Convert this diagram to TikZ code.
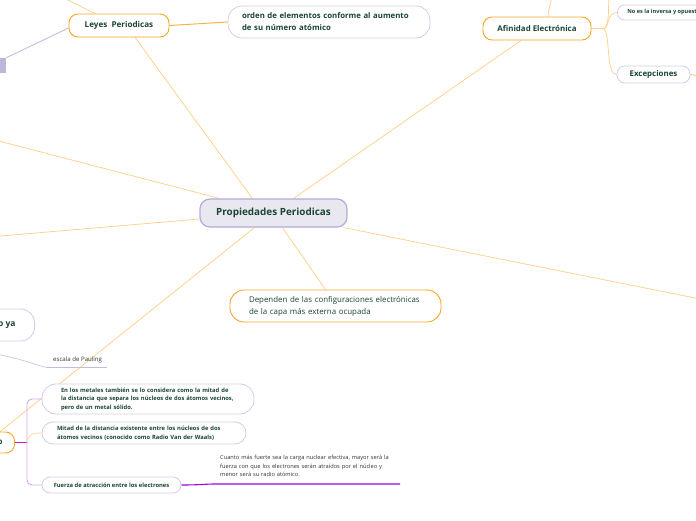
\documentclass[tikz,border=0pt]{standalone}
\usepackage{fontspec}
\setmainfont{Open Sans}
\usetikzlibrary{backgrounds,calc}
\definecolor{tg}{HTML}{1A4535}
\definecolor{oB}{HTML}{F6A623}
\definecolor{lB}{HTML}{D2CDEA}
\definecolor{cB}{HTML}{B3ABD8}
\definecolor{cF}{HTML}{E9E8F0}
\definecolor{oL}{HTML}{FFCD85}
\definecolor{oM}{HTML}{F9B04C}
\definecolor{pL}{HTML}{C3BCE2}
\definecolor{pbF}{HTML}{BDB6DC}
\definecolor{vio}{HTML}{D7A6F0}
\definecolor{mag}{HTML}{C21BC7}
\definecolor{pur}{HTML}{A000E6}
\definecolor{peach}{HTML}{FFD9AE}
\definecolor{gtx}{HTML}{333333}
\begin{document}
\begin{tikzpicture}[x=1pt,y=-1pt,
  ctr/.style={draw=cB, fill=cF, line width=1.2pt, rounded corners=10pt, inner sep=0pt,
    minimum width=147pt, minimum height=28pt, text=tg, font=\bfseries\fontsize{9.9}{11}\selectfont},
  obox/.style={draw=oB, fill=white, line width=0.9pt, rounded corners=9pt, inner sep=0pt, text=tg},
  lbox/.style={draw=lB, fill=white, line width=0.8pt, rounded corners=9pt, inner sep=0pt, text=tg},
  ol/.style={draw=oL, line width=0.7pt},
  small/.style={font=\bfseries\fontsize{5.8}{8.5}\selectfont},
]
\useasboundingbox (0,0) rectangle (696,520);

% nodes
\node[ctr] (pp) at (273.5,213) {Propiedades Periodicas};
\node[obox, minimum width=100pt, minimum height=23pt, font=\bfseries\fontsize{8.1}{10}\selectfont] (ley) at (119,25.5) {Leyes\ \ Periodicas};
\node[lbox, rounded corners=14pt, minimum width=202pt, minimum height=32pt, text width=174pt, align=left,
  font=\bfseries\fontsize{7.8}{12}\selectfont] (ord) at (329,22) {\mbox{orden de elementos conforme al aumento}\\\mbox{de su número atómico}};
\node[obox, minimum width=108pt, minimum height=23pt, font=\bfseries\fontsize{7.9}{10}\selectfont] (af) at (537,28.5) {Afinidad Electrónica};
\node[lbox, rounded corners=7pt, anchor=west, minimum height=15pt, inner xsep=10pt,
  font=\bfseries\fontsize{5.6}{7}\selectfont] (noes) at (617,12.5) {No es la inversa y opuesta};
\node[lbox, rounded corners=8pt, minimum width=73pt, minimum height=17pt, font=\bfseries\fontsize{7.9}{10}\selectfont] (exc) at (653.5,74.5) {Excepciones};
\node[obox, rounded corners=14pt, minimum width=211pt, minimum height=32pt, text width=173pt, align=left,
  font=\fontsize{7.9}{12}\selectfont] (dep) at (335.5,306) {\mbox{Dependen de las configuraciones electrónicas}\\\mbox{de la capa más externa ocupada}};
\node[draw=none, fill=pbF, minimum width=26pt, minimum height=15pt, inner sep=0pt] (pb) at (-7,65.5) {};
\node[lbox, rounded corners=14pt, anchor=east, minimum height=32pt, inner xsep=19pt,
  font=\bfseries\fontsize{8.5}{10}\selectfont, text=tg] (oya) at (35,325) {o ya};
\node[anchor=west, inner sep=0pt, text=gtx, font=\fontsize{6.1}{7}\selectfont] (esc) at (53,360) {escala de Pauling};
\node[obox, anchor=east, minimum height=21pt, inner xsep=12pt, font=\bfseries\fontsize{8}{10}\selectfont] (rad) at (15,442.5) {o};
\node[lbox, rounded corners=14pt, minimum width=212pt, minimum height=30pt, text width=174pt, align=left, small] (b1) at (148,399)
  {\mbox{En los metales también se lo considera como la mitad de}\\\mbox{la distancia que separa los núcleos de dos átomos vecinos,}\\\mbox{pero de un metal sólido.}};
\node[lbox, rounded corners=11pt, minimum width=204pt, minimum height=22pt, text width=174pt, align=left, small] (b2) at (144,433)
  {\mbox{Mitad de la distancia existente entre los núcleos de dos}\\\mbox{átomos vecinos (conocido como Radio Van der Waals)}};
\node[lbox, rounded corners=8pt, minimum width=139pt, minimum height=16pt, small] (b3) at (111.5,485) {Fuerza de atracción entre los electrones};
\node[anchor=north west, inner sep=0pt, text width=190pt, align=left, text=gtx, font=\fontsize{5.7}{8.5}\selectfont] (cu) at (220,455)
  {Cuanto más fuerte sea la carga nuclear efectiva, mayor será la\\fuerza con que los electrones serán atraídos por el núcleo y\\menor será su radio atómico.};

% free ends
\coordinate (l1) at (-5,140);
\coordinate (l2) at (-5,236.5);
\coordinate (r1) at (700,299);
\coordinate (tl) at (62,-3);
\coordinate (ta) at (552,-3);
\coordinate (afj) at (603,28.5);
\coordinate (ta2) at (609,-3);
\coordinate (er) at (700,76);
\coordinate (rj) at (27,442.5);
\coordinate (cj) at (215,484);
\coordinate (ce) at (400,484);
\coordinate (es0) at (-5,354);
\coordinate (esl) at (47,367.5);
\coordinate (esr) at (107,367.5);

\begin{scope}[on background layer]
  \draw[ol] ([xshift=53pt]pp.north west) -- ([xshift=16pt]ley.south);
  \draw[ol] ([xshift=-54pt]pp.north east) -- ([xshift=-16pt]af.south);
  \draw[ol] ([xshift=20pt]pp.north west) -- (l1);
  \draw[ol] ([yshift=-6pt]pp.west) -- (l2);
  \draw[ol] ([xshift=55pt]pp.south west) -- (rad.north);
  \draw[ol] ([xshift=83pt]pp.south west) -- ([xshift=-10pt]dep.north);
  \draw[ol] ([xshift=-4pt]pp.south east) -- (r1);
  \draw[draw=oM, line width=1pt] (ley.east) -- (ord.west);
  \draw[ol] ([xshift=-24pt]ley.north) -- (tl);
  \draw[draw=pL, line width=0.9pt] ([yshift=-2.5pt]ley.west) -- (pb.north east);
  \draw[ol] ([xshift=11pt]af.north) .. controls (549,8) .. (ta);
  \draw[draw=oL, line width=1pt] (af.east) -- (afj);
  \draw[ol] (afj) .. controls (610,28.5) and (606,12.5) .. (noes.west);
  \draw[ol] (afj) .. controls (610,28.5) and (608,5) .. (ta2);
  \draw[ol] (afj) .. controls (611,30) and (605,74.5) .. (exc.west);
  \draw[draw=oL, line width=1pt] (exc.east) -- (er);
  \draw[draw=mag, line width=1pt] (rad.east) -- (rj);
  \draw[draw=vio, line width=0.9pt, rounded corners=5pt] (b1.west) -| (rj) |- (b3.west);
  \draw[draw=peach, line width=0.9pt] (rj) .. controls (28,434) and (33,433) .. (b2.west);
  \draw[draw=pur, line width=1.1pt] (b3.east) .. controls (200,485) and (205,484) .. (cj) -- (ce);
  \draw[draw=pL, line width=0.6pt] (es0) .. controls (20,358) and (38,366) .. (esl);
  \draw[draw=pL, line width=1.6pt] (esl) -- (esr);
\end{scope}
\end{tikzpicture}
\end{document}
